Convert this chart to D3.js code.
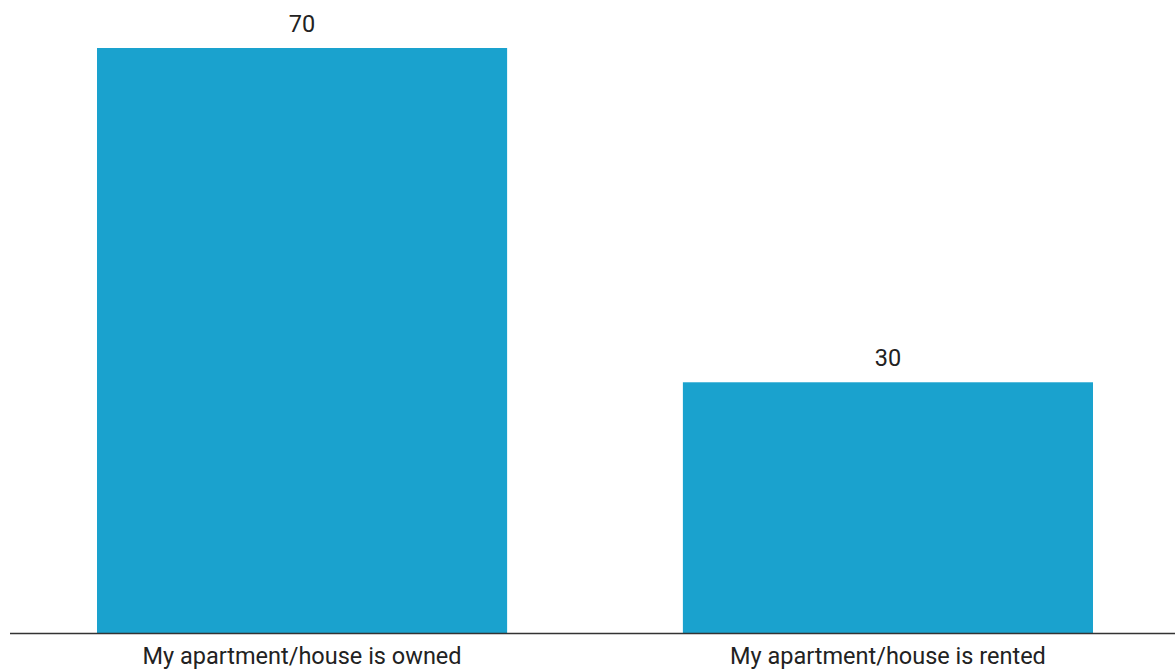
<!DOCTYPE html>
<html>
<head>
<meta charset="utf-8">
<script src="https://cdn.jsdelivr.net/npm/d3@7"></script>
<style>
  html, body { margin: 0; padding: 0; background: #fff; }
  svg { display: block; font-family: Roboto, "Noto Sans", sans-serif; }
</style>
</head>
<body>
<svg id="chart" width="1175" height="670"></svg>
<script>
// Housing tenure shares (percent)
const categories = ["My apartment/house is owned", "My apartment/house is rented"];
const values = [70, 30];

const width = 1175, height = 670;
const margin = { top: 48, right: 0, bottom: 37, left: 10 };
const baseY = height - margin.bottom;

const svg = d3.select("#chart");

const x = d3.scaleBand()
  .domain(categories)
  .range([margin.left, 1180])
  .paddingInner(0.3)
  .paddingOuter(0.1485);

const y = d3.scaleLinear()
  .domain([0, 70])
  .range([baseY, margin.top]);

const data = categories.map((c, i) => ({ category: c, value: values[i] }));

// Bars
svg.append("g")
  .selectAll("rect")
  .data(data)
  .join("rect")
  .attr("x", d => x(d.category))
  .attr("y", d => y(d.value))
  .attr("width", x.bandwidth())
  .attr("height", d => y(0) - y(d.value))
  .attr("fill", "#1aa2ce");

// Value labels above bars
svg.append("g")
  .selectAll("text")
  .data(data)
  .join("text")
  .attr("x", d => x(d.category) + x.bandwidth() / 2)
  .attr("y", d => y(d.value) - 16)
  .attr("text-anchor", "middle")
  .attr("font-size", 23.5)
  .attr("fill", "#222")
  .text(d => d.value);

// Category axis along the baseline
const axis = svg.append("g")
  .attr("transform", `translate(0,${baseY})`)
  .call(d3.axisBottom(x).tickSize(0).tickPadding(14));

axis.select(".domain")
  .attr("d", `M${margin.left},0.5H${width}`)
  .attr("stroke", "#333")
  .attr("stroke-width", 1.6);

axis.selectAll("text")
  .attr("font-family", "Roboto, 'Noto Sans', sans-serif")
  .attr("font-size", 23.5)
  .attr("fill", "#222");
</script>
</body>
</html>
